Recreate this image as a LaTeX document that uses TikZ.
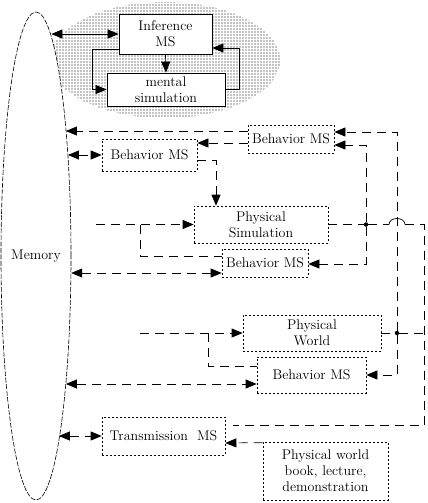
\documentclass[tikz,border=0pt]{standalone}
\usepackage{tikz}
\usetikzlibrary{arrows.meta,shapes.geometric,patterns.meta}

\begin{document}
\begin{tikzpicture}[x=1pt, y=-1pt,
  every node/.style={font=\fontsize{14}{16}\selectfont},
  memstyle/.style={draw, ellipse, dash pattern=on 5pt off 1.5pt, line width=0.6pt,
                   fill=white, minimum width=69pt, minimum height=488pt, inner sep=0pt},
  solidbox/.style={draw, line width=0.8pt, fill=white, align=center, inner sep=0pt},
  msbox/.style={draw, dash pattern=on 2pt off 2pt, line width=0.7pt,
                align=center, inner sep=0pt},
  junction/.style={circle, fill=black, inner sep=0pt, minimum size=4.5pt},
  link/.style={line width=0.7pt},
  arrow/.style={link, -{Triangle[length=11pt,width=9pt]}},
  botharrow/.style={link, {Triangle[length=11pt,width=9pt]}-{Triangle[length=11pt,width=9pt]}},
  dashline/.style={link, dash pattern=on 9pt off 6pt},
  dasharrow/.style={dashline, -{Triangle[length=11pt,width=9pt]}},
  dashboth/.style={dashline, {Triangle[length=11pt,width=9pt]}-{Triangle[length=11pt,width=9pt]}},
]
\useasboundingbox (0,0) rectangle (428,503);

%% Dotted cloud and memory
\node[ellipse, pattern={Dots[distance=3pt, radius=0.6pt]}, pattern color=black,
      minimum width=230pt, minimum height=116pt] (cloud) at (165,60) {};
\node[memstyle] (memory) at (36,256) {Memory};

%% Inference loop
\node[solidbox, minimum width=93pt, minimum height=40pt] (infer) at (165.5,34) {Inference\\MS};
\node[solidbox, minimum width=118pt, minimum height=33pt] (mental) at (166,89.5) {mental\\simulation};

\draw[botharrow] (infer.west -| memory.86) -- (infer.west);
\draw[arrow] (infer.south) -- (mental.north);
\draw[arrow] ([yshift=-15pt]infer.west) -- ++(-26,0) |- (mental.west);
\draw[arrow] (mental.east) -- ++(14,0) |- ([yshift=-14pt]infer.east);

%% Dotted boxes
\node[msbox, minimum width=86pt, minimum height=28pt] (bms1) at (291,139) {Behavior MS};
\node[msbox, minimum width=95pt, minimum height=32pt] (bms2) at (149.5,155) {Behavior MS};
\node[msbox, minimum width=134pt, minimum height=37pt] (psim) at (261,224.5) {Physical\\Simulation};
\node[msbox, minimum width=86pt, minimum height=28pt] (bms3) at (265,263) {Behavior MS};
\node[msbox, minimum width=138pt, minimum height=36pt] (pworld) at (312,333) {Physical\\World};
\node[msbox, minimum width=109pt, minimum height=36pt] (bms4) at (311.5,375) {Behavior MS};
\node[msbox, minimum width=123pt, minimum height=38pt] (trans) at (163.5,436) {Transmission~ MS};
\node[msbox, minimum width=125pt, minimum height=58pt] (pbook) at (325.5,471)
  {Physical world\\book, lecture,\\demonstration};

%% Junctions and free ends
\node[junction] (j1) at (366,224.5) {};
\node[junction] (j2) at (397,333) {};
\coordinate (in1) at (96,224.5);
\coordinate (br1) at (140,224.5);
\coordinate (in2) at (140,333);
\coordinate (br2) at (208,333);
\coordinate (h1) at (389,224.5);
\coordinate (h2) at (405,224.5);

%% Behavior MS (top) links
\draw[dasharrow] ([yshift=8pt]bms1.west) -- ([yshift=8pt]bms1.west -| memory.77);
\draw[dasharrow] ([yshift=-4pt]bms1.west) -- ([yshift=12pt]bms2.east);
\draw[dashboth] (bms2.west -| memory.73) -- (bms2.west);
\draw[dasharrow] ([yshift=-5pt]bms2.east) -| ([xshift=-45pt]psim.north);

%% Physical simulation inputs
\draw[dasharrow] (in1) -- (psim.west);
\draw[dashline] (br1) |- ([yshift=7pt]bms3.west);
\draw[dashboth] ([yshift=-10pt]bms3.west -| memory.334) -- ([yshift=-10pt]bms3.west);

%% Physical simulation outputs
\draw[dashline] (psim.east) -- (j1) -- (h1);
\draw[link] (h1) .. controls ([yshift=8pt]h1) and ([yshift=8pt]h2) .. (h2);
\draw[dasharrow] (j1) |- ([yshift=-6pt]bms1.east);
\draw[dasharrow] (j1) |- ([yshift=-1pt]bms3.east);
\draw[dashline] (h2) -- (424,224.5) |- ([xshift=8pt,yshift=11pt]trans.east);

%% Physical world
\draw[dasharrow] (in2) -- (pworld.west);
\draw[dashline] (br2) |- ([yshift=9pt]bms4.west);
\draw[dashboth] ([yshift=-9pt]bms4.west -| memory.283) -- ([yshift=-9pt]bms4.west);
\draw[dashline] (pworld.east) -- (j2) -- (424,333);
\draw[dasharrow] (j2) |- ([yshift=7pt]bms1.east);
\draw[dasharrow] (j2) |- (bms4.east);

%% Transmission
\draw[dashboth] (trans.west -| memory.277) -- (trans.west);
\draw[dasharrow] ([yshift=-1pt]pbook.north west) -- ([yshift=-7pt]trans.east);

\end{tikzpicture}
\end{document}
